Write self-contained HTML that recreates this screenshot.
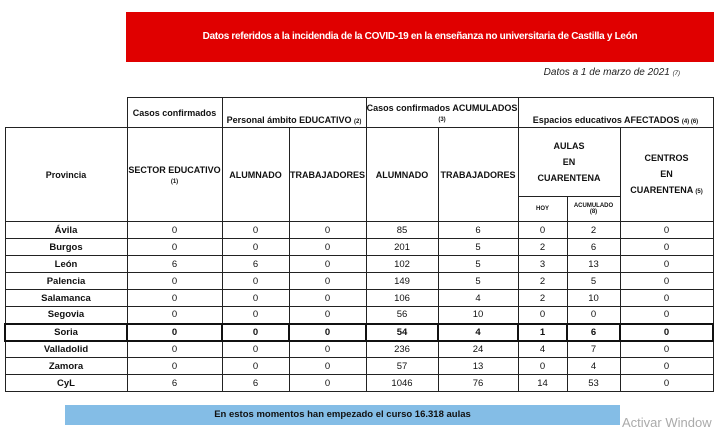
<!DOCTYPE html>
<html><head><meta charset="utf-8"><style>
body{margin:0;width:714px;height:435px;background:#fff;font-family:"Liberation Sans",sans-serif;position:relative;overflow:hidden}
.red{position:absolute;left:126px;top:12px;width:588px;height:50px;background:#e00000;color:#fff;font-weight:bold;font-size:10px;text-align:center;line-height:50px;letter-spacing:-0.3px}
.date{position:absolute;right:34px;top:67px;font-size:10px;font-style:italic;color:#222}
.date small{font-size:6px}
table{position:absolute;left:4px;top:97px;border-collapse:collapse;table-layout:fixed;font-size:9.5px;color:#111}
td{border:1px solid #222;text-align:center;padding:0;vertical-align:middle;font-weight:normal;overflow:hidden}
.b{font-weight:bold}
.h td{font-weight:bold;font-size:9px}
.h td.s,.h .s{font-size:6px}
.soria td{font-weight:bold;border:2px solid #111}
.blue{position:absolute;left:65px;top:405px;width:555px;height:20px;background:#84bde6;font-weight:bold;font-size:9.5px;text-align:center;line-height:20px;color:#111}
.act{position:absolute;left:622px;top:415px;font-size:13px;color:#aaa}
</style></head><body>
<div class="red">Datos referidos a la incidendia de la COVID-19 en la enseñanza no universitaria de Castilla y León</div>
<div class="date">Datos a 1 de marzo de 2021 <small>(7)</small></div>
<table>
<colgroup><col style="width:122px"><col style="width:95px"><col style="width:67px"><col style="width:77px"><col style="width:72px"><col style="width:80px"><col style="width:49px"><col style="width:53px"><col style="width:93px"></colgroup>
<tr class="h" style="height:30px"><td style="border:none;border-bottom:1px solid #222"></td><td>Casos confirmados</td><td colspan="2" style="vertical-align:bottom;padding-bottom:2px">Personal ámbito EDUCATIVO <span class="s">(2)</span></td><td colspan="2">Casos confirmados ACUMULADOS<br><span class="s">(3)</span></td><td colspan="3" style="vertical-align:bottom;padding-bottom:2px">Espacios educativos AFECTADOS <span class="s">(4) (6)</span></td></tr>
<tr class="h" style="height:69px"><td rowspan="2">Provincia</td><td rowspan="2">SECTOR EDUCATIVO<br><span class="s">(1)</span></td><td rowspan="2">ALUMNADO</td><td rowspan="2">TRABAJADORES</td><td rowspan="2">ALUMNADO</td><td rowspan="2">TRABAJADORES</td><td colspan="2" style="line-height:16px">AULAS<br>EN<br>CUARENTENA</td><td rowspan="2" style="line-height:16px">CENTROS<br>EN<br>CUARENTENA <span class="s">(5)</span></td></tr>
<tr class="h" style="height:25px"><td class="s">HOY</td><td class="s">ACUMULADO<br>(8)</td></tr>
<tr style="height:17px"><td class="b">Ávila</td><td>0</td><td>0</td><td>0</td><td>85</td><td>6</td><td>0</td><td>2</td><td>0</td></tr>
<tr style="height:17px"><td class="b">Burgos</td><td>0</td><td>0</td><td>0</td><td>201</td><td>5</td><td>2</td><td>6</td><td>0</td></tr>
<tr style="height:17px"><td class="b">León</td><td>6</td><td>6</td><td>0</td><td>102</td><td>5</td><td>3</td><td>13</td><td>0</td></tr>
<tr style="height:17px"><td class="b">Palencia</td><td>0</td><td>0</td><td>0</td><td>149</td><td>5</td><td>2</td><td>5</td><td>0</td></tr>
<tr style="height:17px"><td class="b">Salamanca</td><td>0</td><td>0</td><td>0</td><td>106</td><td>4</td><td>2</td><td>10</td><td>0</td></tr>
<tr style="height:17px"><td class="b">Segovia</td><td>0</td><td>0</td><td>0</td><td>56</td><td>10</td><td>0</td><td>0</td><td>0</td></tr>
<tr class="soria" style="height:17px"><td>Soria</td><td>0</td><td>0</td><td>0</td><td>54</td><td>4</td><td>1</td><td>6</td><td>0</td></tr>
<tr style="height:17px"><td class="b">Valladolid</td><td>0</td><td>0</td><td>0</td><td>236</td><td>24</td><td>4</td><td>7</td><td>0</td></tr>
<tr style="height:17px"><td class="b">Zamora</td><td>0</td><td>0</td><td>0</td><td>57</td><td>13</td><td>0</td><td>4</td><td>0</td></tr>
<tr style="height:17px"><td class="b">CyL</td><td>6</td><td>6</td><td>0</td><td>1046</td><td>76</td><td>14</td><td>53</td><td>0</td></tr>
</table>
<div class="blue">En estos momentos han empezado el curso 16.318 aulas</div>
<div class="act">Activar Window</div>
</body></html>
